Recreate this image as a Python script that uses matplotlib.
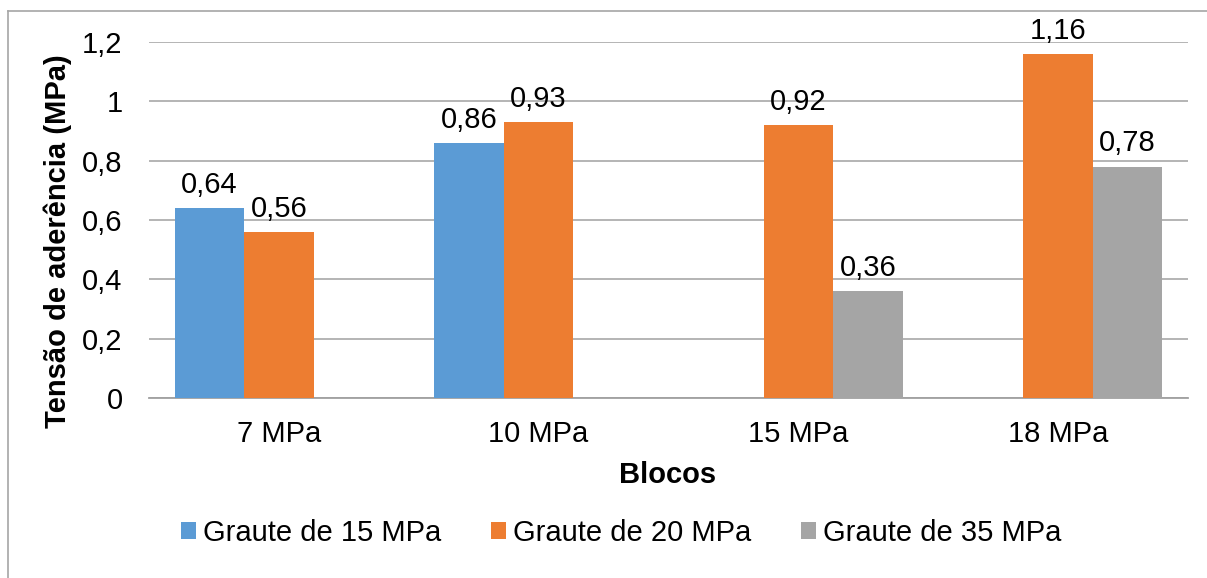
import matplotlib
matplotlib.use('Agg')
import matplotlib.pyplot as plt
from matplotlib.patches import Patch
from matplotlib.lines import Line2D
import numpy as np

plt.rcParams['font.family'] = ['Liberation Sans', 'DejaVu Sans']

blocos = ['7 MPa', '10 MPa', '15 MPa', '18 MPa']
series_names = ['Graute de 15 MPa', 'Graute de 20 MPa', 'Graute de 35 MPa']
graute_15 = [0.64, 0.86, None, None]
graute_20 = [0.56, 0.93, 0.92, 1.16]
graute_35 = [None, None, 0.36, 0.78]
colors = ['#5B9BD5', '#ED7D31', '#A5A5A5']
yticks = [0, 0.2, 0.4, 0.6, 0.8, 1.0, 1.2]

W, H = 1207, 578
fig = plt.figure(figsize=(W / 100, H / 100), dpi=100)
ax = fig.add_axes([149 / W, 1 - 398 / H, (1188 - 149) / W, (398 - 42) / H])

x = np.arange(len(blocos))
width = 0.2675
fs = 21

for k, (vals, col) in enumerate(zip([graute_15, graute_20, graute_35], colors)):
    for i, v in enumerate(vals):
        if v is None:
            continue
        xpos = x[i] + (k - 1) * width
        ax.bar(xpos, v, width=width, color=col, zorder=3)
        ax.annotate(f'{v:.2f}'.replace('.', ','), (xpos, v),
                    xytext=(0, 11), textcoords='offset points',
                    ha='center', va='baseline', fontsize=fs)

ax.set_xlim(-0.5, len(blocos) - 0.5)
ax.set_ylim(0, 1.2)
ax.set_yticks(yticks)
ax.set_yticklabels([f'{t:g}'.replace('.', ',') for t in yticks])
ax.set_xticks(x)
ax.set_xticklabels(blocos)
ax.tick_params(axis='y', length=0, pad=19, labelsize=fs)
ax.tick_params(axis='x', length=0, pad=15.5, labelsize=fs)
ax.yaxis.grid(True, color='#A0A0A0', linewidth=1.1, zorder=0)
ax.set_axisbelow(True)
for s in ['top', 'right', 'left']:
    ax.spines[s].set_visible(False)
ax.spines['bottom'].set_color('#A0A0A0')
ax.spines['bottom'].set_linewidth(1.3)

ax.set_ylabel('Tensão de aderência (MPa)', fontsize=fs, fontweight='bold')
ax.yaxis.set_label_coords((58 - 149) / 1039, (398 - 241) / 356)
ax.set_xlabel('Blocos', fontsize=fs, fontweight='bold')
ax.xaxis.set_label_coords((668 - 149) / 1039, -(475 - 398) / 356)
ax.xaxis.label.set_va('center')
ax.yaxis.label.set_va('center')

handles = [Patch(facecolor=c, edgecolor='none') for c in colors]
fig.legend(handles, series_names, loc='center', ncol=3,
           bbox_to_anchor=(621 / W, 1 - 533 / H), frameon=False,
           fontsize=fs, handlelength=0.52, handleheight=0.52,
           handletextpad=0.24, columnspacing=1.7)

# outer chart frame (only top and left edges visible)
fig.add_artist(Line2D([8 / W, 1.01], [1 - 11 / H, 1 - 11 / H],
                      transform=fig.transFigure, color='#A6A6A6', linewidth=1.2))
fig.add_artist(Line2D([8 / W, 8 / W], [1 - 11 / H, -0.01],
                      transform=fig.transFigure, color='#A6A6A6', linewidth=1.2))

fig.savefig('out.png', dpi=100, facecolor='white')
